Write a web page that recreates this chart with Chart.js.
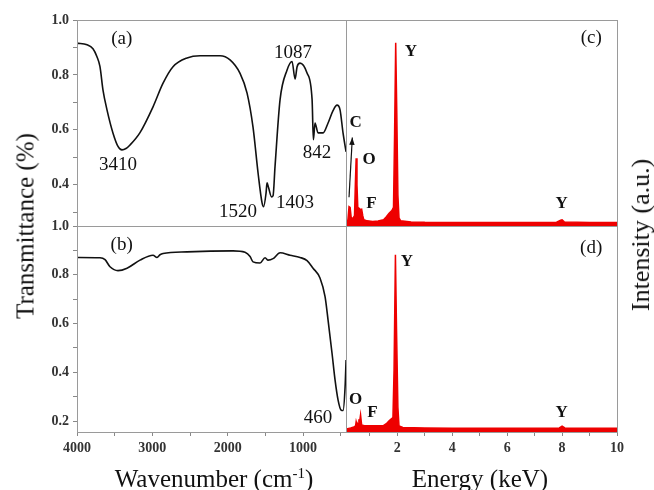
<!DOCTYPE html>
<html>
<head>
<meta charset="utf-8">
<script src="https://cdn.jsdelivr.net/npm/chart.js@4.4.1/dist/chart.umd.min.js"></script>
<style>
  html, body { margin: 0; padding: 0; background: #fff; }
  #wrap { position: relative; width: 654px; height: 490px; overflow: hidden; font-family: "Liberation Serif", "Times New Roman", serif; color: #111; }
  #wrap canvas { position: absolute; }
  .title { position: absolute; white-space: nowrap; line-height: 1; }
  .rot { font-size: 25px; transform: translate(-50%, -50%) rotate(-90deg); }
  .hor { font-size: 25px; transform: translate(-50%, -50%); }
  .hor sup { font-size: 15px; vertical-align: 9px; }
</style>
</head>
<body>
<div id="wrap">
  <canvas id="chartA" width="354" height="250" style="left:0;top:0"></canvas>
  <canvas id="chartB" width="354" height="280" style="left:0;top:210px"></canvas>
  <canvas id="chartC" width="280" height="250" style="left:346px;top:0"></canvas>
  <canvas id="chartD" width="300" height="280" style="left:346px;top:210px"></canvas>
  <div class="title rot" style="left:25px;top:226px">Transmittance (%)</div>
  <div class="title rot" style="left:641px;top:235px;font-size:26px">Intensity (a.u.)</div>
  <div class="title hor" style="left:214px;top:478px">Wavenumber (cm<sup>-1</sup>)</div>
  <div class="title hor" style="left:480px;top:478px">Energy (keV)</div>
</div>
<script>
// FTIR spectrum (a): wavenumber (cm-1) and transmittance
const wnA = [4000, 3867, 3788, 3735, 3695, 3655, 3602, 3522, 3456, 3403, 3350, 3296, 3164, 2991, 2858, 2726, 2540, 2367, 2102, 1969, 1836, 1743, 1664, 1597, 1544, 1524, 1491, 1478, 1458, 1418, 1398, 1372, 1305, 1212, 1146, 1106, 1079, 1040, 947, 880, 863, 841, 801, 734, 668, 602, 549, 509, 469, 429];
const trA = [0.916, 0.91, 0.895, 0.866, 0.83, 0.745, 0.673, 0.588, 0.54, 0.527, 0.532, 0.545, 0.59, 0.684, 0.77, 0.83, 0.862, 0.87, 0.87, 0.855, 0.806, 0.734, 0.61, 0.443, 0.334, 0.32, 0.37, 0.407, 0.39, 0.356, 0.36, 0.466, 0.71, 0.818, 0.849, 0.785, 0.83, 0.843, 0.807, 0.71, 0.564, 0.625, 0.589, 0.589, 0.625, 0.67, 0.69, 0.673, 0.588, 0.52];

// FTIR spectrum (b)
const wnB = [4000, 3695, 3628, 3562, 3456, 3336, 3164, 2991, 2938, 2898, 2858, 2540, 1929, 1770, 1703, 1664, 1571, 1504, 1464, 1398, 1305, 1172, 1040, 947, 867, 774, 708, 668, 615, 575, 535, 495, 469, 442, 429];
const trB = [0.871, 0.87, 0.862, 0.833, 0.817, 0.827, 0.86, 0.88, 0.871, 0.882, 0.887, 0.894, 0.898, 0.892, 0.875, 0.853, 0.848, 0.87, 0.86, 0.866, 0.89, 0.88, 0.871, 0.858, 0.827, 0.786, 0.71, 0.614, 0.477, 0.368, 0.286, 0.245, 0.243, 0.34, 0.45];

// EDS spectrum (c): energy (keV) and relative intensity
const enC = [0.15, 0.2, 0.24, 0.28, 0.32, 0.38, 0.44, 0.47, 0.5, 0.53, 0.56, 0.6, 0.65, 0.7, 0.74, 0.78, 0.9, 1.1, 1.3, 1.5, 1.6, 1.7, 1.8, 1.86, 1.9, 1.94, 1.98, 2.02, 2.06, 2.12, 2.5, 3, 4, 5, 6, 7, 7.8, 7.95, 8.0, 8.08, 9, 10];
const inC = [0.02, 0.03, 0.094, 0.09, 0.04, 0.037, 0.05, 0.2, 0.329, 0.2, 0.09, 0.087, 0.08, 0.082, 0.05, 0.03, 0.025, 0.022, 0.024, 0.03, 0.045, 0.062, 0.075, 0.09, 0.45, 0.89, 0.55, 0.15, 0.04, 0.025, 0.02, 0.018, 0.017, 0.017, 0.017, 0.017, 0.018, 0.028, 0.03, 0.02, 0.017, 0.017];

// EDS spectrum (d)
const enD = [0.15, 0.3, 0.42, 0.48, 0.5, 0.53, 0.57, 0.6, 0.62, 0.66, 0.7, 0.8, 1.0, 1.3, 1.5, 1.6, 1.7, 1.76, 1.84, 1.88, 1.93, 1.97, 2.02, 2.06, 2.2, 3, 4, 6, 7.9, 8.0, 8.1, 10];
const inD = [0.015, 0.02, 0.025, 0.03, 0.05, 0.035, 0.04, 0.062, 0.045, 0.083, 0.034, 0.03, 0.03, 0.03, 0.032, 0.04, 0.055, 0.062, 0.07, 0.3, 0.86, 0.5, 0.12, 0.03, 0.022, 0.02, 0.018, 0.018, 0.02, 0.028, 0.02, 0.018];

// tick positions
const wnTicks = [4000, 3500, 3000, 2500, 2000, 1500, 1000, 500];
const trTicksA = [0.3, 0.4, 0.5, 0.6, 0.7, 0.8, 0.9, 1.0];
const trTicksB = [0.2, 0.3, 0.4, 0.5, 0.6, 0.7, 0.8, 0.9, 1.0];
const enTicks = [1, 2, 3, 4, 5, 6, 7, 8, 9, 10];

// peak labels, placed in data units
const notesA = [
    { text: '(a)', x: 3407, y: 0.931 },
    { text: '3410', x: 3456, y: 0.473 },
    { text: '1520', x: 1863, y: 0.302 },
    { text: '1403', x: 1106, y: 0.335 },
    { text: '1087', x: 1133, y: 0.88 },
    { text: '842', x: 814, y: 0.516 }
];
const notesB = [
    { text: '(b)', x: 3407, y: 0.922 },
    { text: '460', x: 801, y: 0.211 }
];
const notesC = [
    { text: '(c)', x: 9.06, y: 0.913 },
    { text: 'Y', x: 2.49, y: 0.845, bold: true },
    { text: 'C', x: 0.48, y: 0.5, bold: true },
    { text: 'O', x: 0.97, y: 0.32, bold: true },
    { text: 'F', x: 1.06, y: 0.107, bold: true },
    { text: 'Y', x: 7.98, y: 0.107, bold: true }
];
const notesD = [
    { text: '(d)', x: 9.06, y: 0.893 },
    { text: 'Y', x: 2.35, y: 0.825, bold: true },
    { text: 'O', x: 0.48, y: 0.155, bold: true },
    { text: 'F', x: 1.09, y: 0.092, bold: true },
    { text: 'Y', x: 7.98, y: 0.092, bold: true }
];

const SERIF = '"Liberation Serif", "Times New Roman", serif';
const tickFont = { family: SERIF, size: 14, weight: 'bold' };
const frameColor = '#9a9a9a';

// gray box round the plot area
const framePlugin = {
    id: 'frame',
    afterDraw(chart) {
        const { ctx, chartArea: a } = chart;
        ctx.save();
        ctx.strokeStyle = frameColor;
        ctx.lineWidth = 1;
        ctx.strokeRect(Math.round(a.left) + 0.5, Math.round(a.top) + 0.5, Math.round(a.right - a.left), Math.round(a.bottom - a.top));
        ctx.restore();
    }
};

// text labels and the arrow for C
const notesPlugin = {
    id: 'notes',
    afterDraw(chart, args, opts) {
        const { ctx, scales: { x, y } } = chart;
        ctx.save();
        ctx.fillStyle = '#111';
        ctx.textAlign = 'center';
        ctx.textBaseline = 'middle';
        (opts.items || []).forEach(n => {
            ctx.font = (n.bold ? 'bold 17px ' : '19px ') + SERIF;
            ctx.fillText(n.text, x.getPixelForValue(n.x), y.getPixelForValue(n.y));
        });
        if (opts.arrow) {
            const x0 = x.getPixelForValue(opts.arrow.x0), y0 = y.getPixelForValue(opts.arrow.y0);
            const x1 = x.getPixelForValue(opts.arrow.x1), y1 = y.getPixelForValue(opts.arrow.y1);
            const ang = Math.atan2(y1 - y0, x1 - x0);
            ctx.strokeStyle = '#111';
            ctx.lineWidth = 1.2;
            ctx.beginPath();
            ctx.moveTo(x0, y0);
            ctx.lineTo(x1, y1);
            ctx.stroke();
            ctx.beginPath();
            ctx.moveTo(x1, y1);
            ctx.lineTo(x1 - 8 * Math.cos(ang - 0.35), y1 - 8 * Math.sin(ang - 0.35));
            ctx.lineTo(x1 - 8 * Math.cos(ang + 0.35), y1 - 8 * Math.sin(ang + 0.35));
            ctx.closePath();
            ctx.fill();
        }
        ctx.restore();
    }
};

function points(xs, ys) {
    return xs.map((v, i) => ({ x: v, y: ys[i] }));
}

function tickGrid() {
    return { drawOnChartArea: false, tickLength: 4, color: '#888' };
}

// one FTIR panel
function ftirChart(id, xs, ys, yMin, yTicks, showX, padding, notes) {
    return new Chart(document.getElementById(id), {
        type: 'line',
        data: {
            datasets: [{
                data: points(xs, ys),
                borderColor: '#111',
                borderWidth: 1.6,
                pointRadius: 0,
                fill: false,
                cubicInterpolationMode: 'monotone'
            }]
        },
        options: {
            responsive: false,
            animation: false,
            layout: { padding: padding },
            scales: {
                x: {
                    type: 'linear',
                    reverse: true,
                    min: 430,
                    max: 4000,
                    display: showX,
                    afterBuildTicks: s => { s.ticks = wnTicks.map(v => ({ value: v })); },
                    afterFit: s => { if (showX) s.height = 30; },
                    ticks: {
                        autoSkip: false,
                        maxRotation: 0,
                        padding: 4,
                        font: tickFont,
                        color: '#333',
                        callback: v => (v % 1000 === 0 ? String(v) : '')
                    },
                    grid: tickGrid(),
                    border: { color: frameColor }
                },
                y: {
                    min: yMin,
                    max: 1.0,
                    afterBuildTicks: s => { s.ticks = yTicks.map(v => ({ value: v })); },
                    afterFit: s => { s.width = 77; },
                    ticks: {
                        autoSkip: false,
                        padding: 4,
                        font: tickFont,
                        color: '#333',
                        callback: v => (Math.round(v * 10) % 2 === 0 ? v.toFixed(1) : '')
                    },
                    grid: tickGrid(),
                    border: { color: frameColor }
                }
            },
            plugins: {
                legend: { display: false },
                tooltip: { enabled: false },
                notes: { items: notes }
            }
        },
        plugins: [framePlugin, notesPlugin]
    });
}

// one EDS panel
function edsChart(id, xs, ys, showX, padding, notes, arrow) {
    return new Chart(document.getElementById(id), {
        type: 'line',
        data: {
            datasets: [{
                data: points(xs, ys),
                borderColor: '#ee0000',
                backgroundColor: '#ee0000',
                borderWidth: 1.5,
                pointRadius: 0,
                fill: 'origin',
                tension: 0
            }]
        },
        options: {
            responsive: false,
            animation: false,
            layout: { padding: padding },
            scales: {
                x: {
                    type: 'linear',
                    min: 0.13,
                    max: 10,
                    display: showX,
                    afterBuildTicks: s => { s.ticks = enTicks.map(v => ({ value: v })); },
                    afterFit: s => { if (showX) s.height = 30; },
                    ticks: {
                        autoSkip: false,
                        maxRotation: 0,
                        padding: 4,
                        font: tickFont,
                        color: '#333',
                        callback: v => (v % 2 === 0 ? String(v) : '')
                    },
                    grid: tickGrid(),
                    border: { color: frameColor }
                },
                y: { min: 0, max: 1, display: false }
            },
            plugins: {
                legend: { display: false },
                tooltip: { enabled: false },
                notes: { items: notes, arrow: arrow }
            }
        },
        plugins: [framePlugin, notesPlugin]
    });
}

ftirChart('chartA', wnA, trA, 0.25, trTicksA, false, { top: 20, right: 8, bottom: 24, left: 0 }, notesA);
ftirChart('chartB', wnB, trB, 0.155, trTicksB, true, { top: 16, right: 8, bottom: 28, left: 0 }, notesB);
edsChart('chartC', enC, inC, false, { top: 20, right: 9, bottom: 24, left: 0 }, notesC, { x0: 0.24, y0: 0.14, x1: 0.36, y1: 0.43 });
edsChart('chartD', enD, inD, true, { top: 16, right: 29, bottom: 28, left: 0 }, notesD, null);
</script>
</body>
</html>
